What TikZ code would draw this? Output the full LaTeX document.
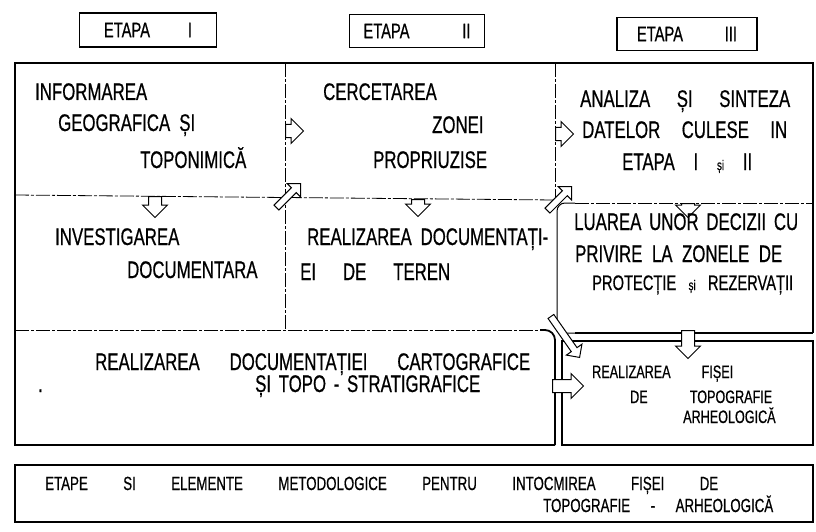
\documentclass[tikz,border=0pt]{standalone}
\usepackage{fontspec}
\newfontfamily\hand[FakeStretch=0.7,FakeBold=0.6]{Liberation Sans}
\usetikzlibrary{shapes.arrows}
\tikzstyle{etapa}=[draw,line width=1.6pt,inner sep=0pt,font=\hand\fontsize{21}{23}\selectfont]
\tikzstyle{txt}=[anchor=base west,inner sep=0pt,font=\hand\fontsize{24}{26}\selectfont]
\tikzstyle{smalltxt}=[anchor=base west,inner sep=0pt,font=\hand\fontsize{18}{20}\selectfont]
\tikzstyle{foottxt}=[anchor=base west,inner sep=0pt,font=\hand\fontsize{19}{21}\selectfont]
\tikzstyle{frame}=[line width=1.8pt]
\tikzstyle{divider}=[line width=0.8pt,dash pattern=on 14pt off 2pt on 3pt off 2pt]
% minimum height = lungimea sagetii, inner ysep = jumatate din latimea cozii
\tikzstyle{blockarr}=[single arrow,draw,fill=white,line width=1pt,inner xsep=0pt,inner ysep=6pt,minimum height=20pt,single arrow head extend=6pt]
\tikzstyle{diagarr}=[blockarr,inner ysep=3pt,single arrow head extend=6pt]
\newcommand{\spreadline}[2]{\makebox[#1][s]{#2}}
\newcommand{\siz}{\fontsize{14}{14}\selectfont}

\begin{document}
\begin{tikzpicture}[x=1pt,y=-1pt]
\useasboundingbox (0,0) rectangle (816,532);
% etape
\draw (148,30) node[etapa,minimum width=137pt,minimum height=34pt] (e1) {\spreadline{88pt}{ETAPA I}};
\draw (417,31) node[etapa,minimum width=135pt,minimum height=33pt] (e2) {\spreadline{107pt}{ETAPA II}};
\draw (687,34) node[etapa,minimum width=140pt,minimum height=33pt] (e3) {\spreadline{100pt}{ETAPA III}};
% cadru
\draw[frame] (555,445) -- (15,445) -- (15,63) -- (813,63) -- (813,333);
\draw[divider] (285,63) -- (285,330);
\draw[divider] (555,63) -- (555,200);
\draw[divider] (15,195) -- (555,200);
\draw[divider] (575,203) -- (813,203);
\draw[line width=1pt,rounded corners=8pt] (575,333) -- (557,333) -- (557,203) -- (575,203);
\draw[frame] (575,333) -- (813,333);
\draw[divider] (15,330) -- (540,330);
\draw[frame,rounded corners=10pt] (540,330) -- (555,330) -- (555,445);
\draw[frame] (562,341) rectangle (813,445);
\draw[frame] (15,465) rectangle (813,522);
% sageti
\draw (285,131) node[blockarr,anchor=tail,minimum height=18pt] (a1) {};
\draw (555,134) node[blockarr,anchor=tail,minimum height=18pt] (a2) {};
\draw (155,196) node[blockarr,anchor=tail,rotate=-90,minimum height=21pt] (a3) {};
\draw (418,199) node[blockarr,anchor=tail,rotate=-90,minimum height=17pt] (a4) {};
\draw (688,203) node[blockarr,anchor=tail,rotate=-90,minimum height=14pt] (a5) {};
\draw (301,183) node[diagarr,anchor=tip,rotate=45,minimum height=34pt] (a6) {};
\draw (572,186) node[diagarr,anchor=tip,rotate=45,minimum height=34pt] (a7) {};
\draw (580,358) node[diagarr,anchor=tip,rotate=-55,minimum height=50pt] (a8) {};
\draw (552,386) node[blockarr,anchor=tail,minimum height=31pt] (a9) {};
\draw (688,330) node[blockarr,anchor=tail,rotate=-90,minimum height=28pt] (a10) {};
% etapa I
\draw (35,100) node[txt] (inf1) {INFORMAREA};
\draw (58,131) node[txt] (inf2) {\spreadline{137pt}{GEOGRAFICA ȘI}};
\draw (140,168) node[txt] (inf3) {TOPONIMICĂ};
\draw (55,245) node[txt] (inv1) {INVESTIGAREA};
\draw (127,278) node[txt] (inv2) {DOCUMENTARA};
% etapa II
\draw (323,100) node[txt] (cer1) {CERCETAREA};
\draw (432,133) node[txt] (cer2) {ZONEI};
\draw (373,168) node[txt] (cer3) {PROPRIUZISE};
\draw (307,245) node[txt] (rea1) {\spreadline{241pt}{REALIZAREA DOCUMENTAȚI-}};
\draw (300,280) node[txt] (rea2) {\spreadline{150pt}{EI DE TEREN}};
% etapa III
\draw (580,107) node[txt] (ana1) {\spreadline{210pt}{ANALIZA ȘI SINTEZA}};
\draw (582,138) node[txt] (ana2) {\spreadline{205pt}{DATELOR CULESE IN}};
\draw (622,170) node[txt] (ana3) {\spreadline{130pt}{ETAPA I {\siz și} II}};
\draw (574,230) node[txt] (lua1) {\spreadline{224pt}{LUAREA UNOR DECIZII CU}};
\draw (575,262) node[txt] (lua2) {\spreadline{207pt}{PRIVIRE LA ZONELE DE}};
\draw (592,290) node[txt,font=\hand\fontsize{21}{23}\selectfont] (lua3) {\spreadline{201pt}{PROTECȚIE {\siz și} REZERVAȚII}};
% documentatie si fisa
\draw (95,370) node[txt] (car1) {\spreadline{435pt}{REALIZAREA DOCUMENTAȚIEI CARTOGRAFICE}};
\draw (255,392) node[txt] (car2) {\spreadline{225pt}{ȘI TOPO - STRATIGRAFICE}};
\draw (38,392) node[txt] (dot) {.};
\draw (592,378) node[smalltxt] (fis1) {\spreadline{141pt}{REALIZAREA FIȘEI}};
\draw (630,403) node[smalltxt] (fis2) {\spreadline{142pt}{DE TOPOGRAFIE}};
\draw (683,423) node[smalltxt] (fis3) {ARHEOLOGICĂ};
% titlu
\draw (45,490) node[foottxt] (foot1) {\spreadline{673pt}{ETAPE SI ELEMENTE METODOLOGICE PENTRU INTOCMIREA FIȘEI DE}};
\draw (543,512) node[foottxt] (foot2) {\spreadline{230pt}{TOPOGRAFIE - ARHEOLOGICĂ}};
\end{tikzpicture}
\end{document}
